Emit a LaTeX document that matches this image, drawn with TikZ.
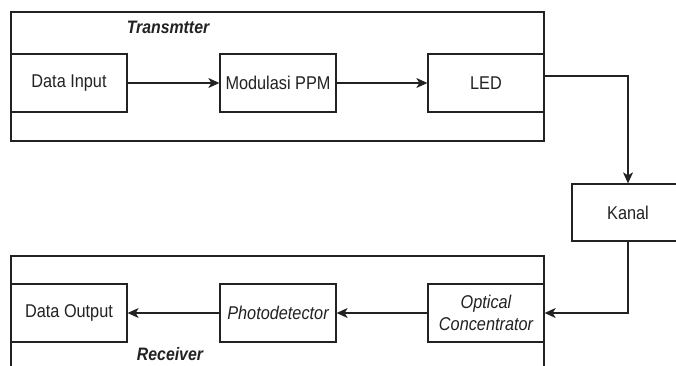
\documentclass[tikz,border=0pt]{standalone}
\usepackage{fontspec}
\setmainfont{Liberation Sans}[FakeStretch=0.88]
\usetikzlibrary{arrows.meta}
\definecolor{ink}{HTML}{222222}
\begin{document}
\begin{tikzpicture}[x=1pt,y=-1pt,
  every node/.style={font=\fontsize{18.5}{21}\selectfont, text=ink},
  blk/.style={draw=ink, line width=1.3pt, minimum width=116pt, minimum height=58pt, inner sep=0pt, align=center},
  grp/.style={draw=ink, line width=1.3pt},
  conn/.style={draw=ink, line width=1.1pt, -{Stealth[length=11pt,width=10pt,inset=3pt]}},
  ttl/.style={font=\fontsize{18}{21}\selectfont\bfseries\itshape}]
\useasboundingbox (0,0) rectangle (676,365);
\clip (0,0) rectangle (676,365);
\fill[white] (0,0) rectangle (676,365);
% group frames
\draw[grp] (11,12) rectangle (544,141);
\draw[grp] (11,370) -- (11,256) -- (544,256) -- (544,370);
\node[ttl] (ttx) at (168,27) {Transmtter};
\node[ttl] (trx) at (170,354) {Receiver};
% blocks
\node[blk] (din) at (69,83) {Data Input};
\node[blk] (mod) at (278,83) {Modulasi PPM};
\node[blk] (led) at (486,83) {LED};
\node[blk, minimum width=112pt, minimum height=57pt] (kan) at (628,212.5) {Kanal};
\node[blk] (dout) at (69,313) {Data Output};
\node[blk] (pd) at (278,313) {\itshape Photodetector};
\node[blk] (oc) at (486,313) {\itshape Optical\\[1pt]\itshape Concentrator};
% connectors
\draw[conn] (din) -- (mod);
\draw[conn] (mod) -- (led);
\coordinate (ledout) at (led.east |- 0,76);
\draw[conn] (ledout) -| (kan.north);
\draw[conn] (kan.south) |- (oc.east);
\draw[conn] (oc) -- (pd);
\draw[conn] (pd) -- (dout);
\end{tikzpicture}
\end{document}
